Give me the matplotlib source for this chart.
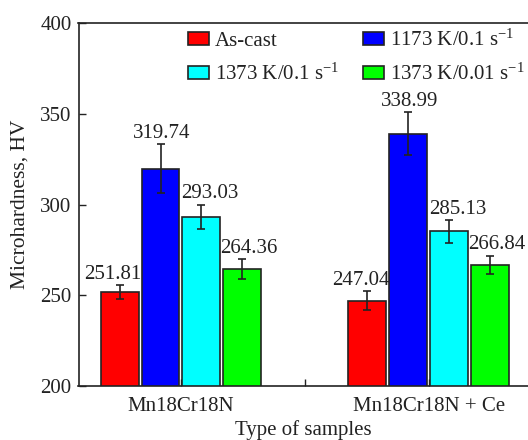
import matplotlib
matplotlib.use("Agg")
import matplotlib.pyplot as plt
import numpy as np

plt.rcParams['font.family'] = ['Liberation Serif', 'DejaVu Serif']
plt.rcParams['mathtext.fontset'] = 'custom'
plt.rcParams['mathtext.rm'] = 'Liberation Serif'
plt.rcParams['mathtext.it'] = 'Liberation Serif:italic'

categories = ['Mn18Cr18N', 'Mn18Cr18N + Ce']
series = ['As-cast', r'1173 K/0.1 s$^{-1}$', r'1373 K/0.1 s$^{-1}$', r'1373 K/0.01 s$^{-1}$']
as_cast = [251.81, 247.04]
k1173_01 = [319.74, 338.99]
k1373_01 = [293.03, 285.13]
k1373_001 = [264.36, 266.84]
err_as_cast = [3.7, 5.3]
err_1173_01 = [13.4, 11.7]
err_1373_01 = [6.8, 6.3]
err_1373_001 = [5.4, 4.9]
yticks = [200, 250, 300, 350, 400]

values = [as_cast, k1173_01, k1373_01, k1373_001]
errors = [err_as_cast, err_1173_01, err_1373_01, err_1373_001]
colors = ['#FF0000', '#0000FF', '#00FFFF', '#00FF00']
label_dx = [-5, 1, 6, 5]  # points

fig = plt.figure(figsize=(5.28, 4.40), dpi=100)
ax = fig.add_axes([78.5/528, 1-386/440, 1-78.5/528 + 0.002, 363/440])

xc = np.array([0, 2])
step = 0.33
width = 0.306
for i, (v, e, c) in enumerate(zip(values, errors, colors)):
    xs = xc + (i - 1.5) * step
    ax.bar(xs, v, width=width, color=c, edgecolor='#222222', linewidth=1.2,
           label=series[i], zorder=2)
    ax.errorbar(xs, v, yerr=e, fmt='none', ecolor='#222222', elinewidth=1.2,
                capsize=3, capthick=1.2, zorder=3)
    for x, y, ee in zip(xs, v, e):
        ax.annotate(f'{y:.2f}', xy=(x, y + ee), xytext=(label_dx[i], 1),
                    textcoords='offset points', ha='center', va='bottom',
                    fontsize=15, color='#222222', zorder=4)

ax.set_xlim(-0.827, 2.81)
ax.set_ylim(200, 400)
ax.set_yticks(yticks)
ax.set_xticks([0, 1, 2])
ax.set_xticklabels([categories[0], '', categories[1]])
ax.tick_params(direction='in', length=5, width=1.0, labelsize=15, colors='#222222', pad=5)
ax.tick_params(axis='x', pad=8)
for s in ['left', 'bottom', 'top']:
    ax.spines[s].set_linewidth(1.2)
    ax.spines[s].set_color('#222222')
ax.spines['right'].set_visible(False)

ax.set_ylabel('Microhardness, HV', fontsize=15.5, color='#222222', labelpad=8)
ax.set_xlabel('Type of samples', fontsize=15, color='#222222', labelpad=3)

handles, labels = ax.get_legend_handles_labels()
order = [0, 2, 1, 3]
leg = fig.legend([handles[k] for k in order], [labels[k] for k in order], ncol=2,
                 loc='upper left', bbox_to_anchor=(188/528, 1-30/440),
                 bbox_transform=fig.transFigure, frameon=False, fontsize=15,
                 handlelength=1.0, handleheight=0.6, handletextpad=0.3,
                 columnspacing=1.15, labelspacing=0.6, borderpad=0, borderaxespad=0)
for t in leg.get_texts():
    t.set_color('#222222')

fig.savefig('out.png', dpi=100)
